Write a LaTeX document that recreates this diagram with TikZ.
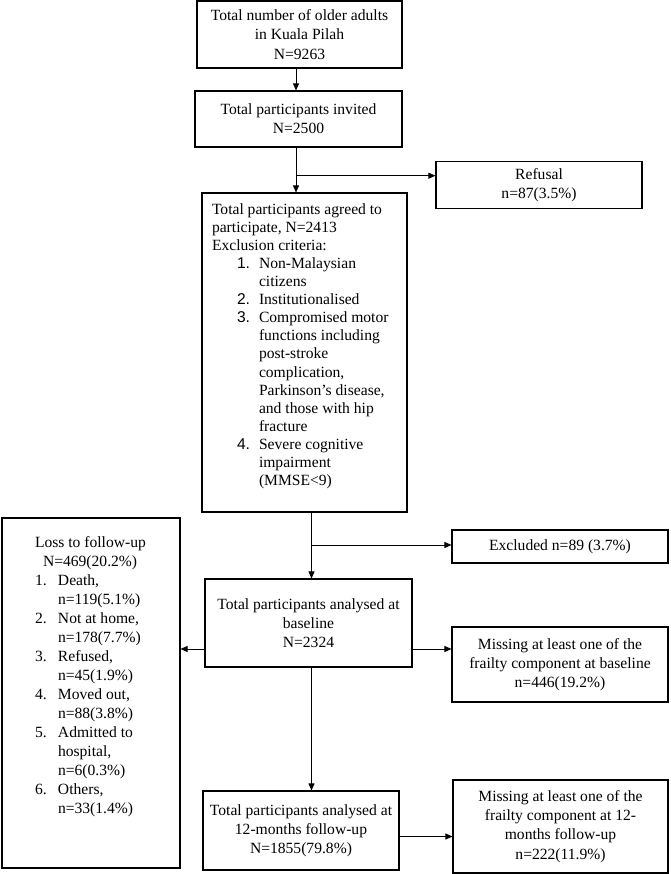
\documentclass[tikz,border=0pt]{standalone}
\usepackage{fontspec}
\setmainfont{Liberation Serif}
\newfontfamily\numfont{Liberation Sans}
\usepackage{tikz}
\usetikzlibrary{positioning, arrows.meta, calc}

\newcommand{\boxfont}{\fontsize{15.6pt}{19.2pt}\selectfont}
\newcommand{\crit}[1]{\hspace*{25pt}\makebox[22pt][l]{\numfont #1}}
\newcommand{\critcont}{\hspace*{47pt}}
\newcommand{\lossitem}[1]{\makebox[23pt][l]{#1}}
\newcommand{\losscont}{\hspace*{23pt}}

\begin{document}
\begin{tikzpicture}[
        x=1pt, y=1pt,
        box/.style={draw, rectangle, line width=1.1pt, align=center, inner sep=0pt, font=\boxfont},
        arrow/.style={-{Triangle[length=7pt, width=6pt]}, line width=0.8pt}
      ]
      \useasboundingbox (0,0) rectangle (670,-874);

      % main chain
      \node[box, minimum width=205pt, minimum height=67pt] (total) at (299.5,-34.5)
        {Total number of older adults\\in Kuala Pilah\\N=9263};
      \node[box, minimum width=207pt, minimum height=56pt] (invited) at (298.5,-119)
        {Total participants invited\\N=2500};
      \node[box, minimum width=205pt, minimum height=319pt] (agreed) at (304.5,-352.5)
        {\parbox[c][319pt][t]{205pt}{\fontsize{15.6pt}{18.1pt}\selectfont\leftskip=10pt\vspace*{10.3pt}%
          Total participants agreed to\\
          participate, N=2413\\
          Exclusion criteria:\\
          \crit{1.}Non-Malaysian\\
          \critcont citizens\\
          \crit{2.}Institutionalised\\
          \crit{3.}Compromised motor\\
          \critcont functions including\\
          \critcont post-stroke\\
          \critcont complication,\\
          \critcont Parkinson’s disease,\\
          \critcont and those with hip\\
          \critcont fracture\\
          \crit{4.}Severe cognitive\\
          \critcont impairment\\
          \critcont (MMSE<9)}};
      \node[box, minimum width=207pt, minimum height=88pt] (baseline) at (308.5,-623)
        {Total participants analysed at\\baseline\\N=2324};
      \node[box, minimum width=196pt, minimum height=79pt] (followup) at (301,-830.5)
        {Total participants analysed at\\12-months follow-up\\N=1855(79.8\%)};

      % side boxes
      \node[box, minimum width=206pt, minimum height=47pt] (refusal) at (539,-185.3)
        {Refusal\\n=87(3.5\%)};
      \node[box, minimum width=216pt, minimum height=33pt] (excluded) at (560,-546.5)
        {Excluded n=89 (3.7\%)};
      \node[box, minimum width=216pt, minimum height=75pt] (missbase) at (560,-664.5)
        {Missing at least one of the\\frailty component at baseline\\n=446(19.2\%)};
      \node[box, minimum width=215pt, minimum height=93pt] (missfu) at (560.5,-826.5)
        {Missing at least one of the\\frailty component at 12-\\months follow-up\\n=222(11.9\%)};
      \node[box, minimum width=178pt, minimum height=350pt] (loss) at (91,-693)
        {\parbox[c][350pt][t]{178pt}{\fontsize{15.6pt}{19pt}\selectfont\leftskip=33pt\vspace*{18.6pt}%
          Loss to follow-up\\
          \hspace*{8pt}N=469(20.2\%)\\
          \lossitem{1.}Death,\\
          \losscont n=119(5.1\%)\\
          \lossitem{2.}Not at home,\\
          \losscont n=178(7.7\%)\\
          \lossitem{3.}Refused,\\
          \losscont n=45(1.9\%)\\
          \lossitem{4.}Moved out,\\
          \losscont n=88(3.8\%)\\
          \lossitem{5.}Admitted to\\
          \losscont hospital,\\
          \losscont n=6(0.3\%)\\
          \lossitem{6.}Others,\\
          \losscont n=33(1.4\%)}};

      % split points
      \coordinate (split1) at (296,-175.7);
      \coordinate (split2) at (311.5,-545);
      \coordinate (sideY) at (0,-649);
      \coordinate (fuY) at (0,-836.5);

      % edges
      \draw[arrow] (total.south -| split1) -- (invited.north -| split1);
      \draw[arrow] (invited.south -| split1) -- (agreed.north -| split1);
      \draw[arrow] (split1) -- (refusal.west |- split1);
      \draw[arrow] (agreed.south -| split2) -- (baseline.north -| split2);
      \draw[arrow] (split2) -- (excluded.west |- split2);
      \draw[arrow] (baseline.east |- sideY) -- (missbase.west |- sideY);
      \draw[arrow] (baseline.west |- sideY) -- (loss.east |- sideY);
      \draw[arrow] (baseline.south -| split2) -- (followup.north -| split2);
      \draw[arrow] (followup.east |- fuY) -- (missfu.west |- fuY);

      \end{tikzpicture}
\end{document}
